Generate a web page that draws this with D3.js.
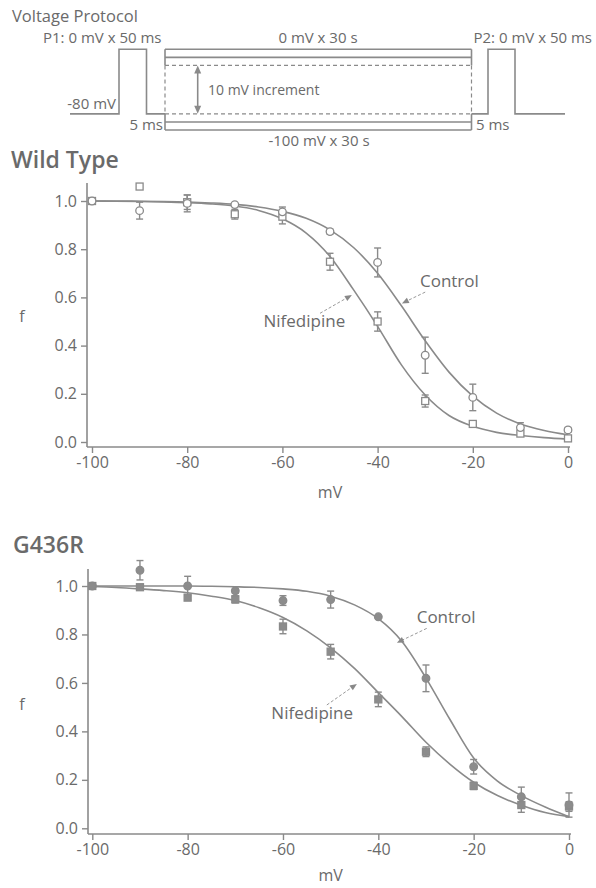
<!DOCTYPE html>
<html><head><meta charset="utf-8">
<script src="https://cdn.jsdelivr.net/npm/d3@7"></script>
<style>
body{margin:0;background:#fff}
svg{display:block}
text{font-family:"Open Sans","Noto Sans",sans-serif;fill:#6a6a6a}
</style>
</head><body><svg id="c" width="596" height="888"></svg>
<script>
// ---------- DATA ----------
const voltages = [-100,-90,-80,-70,-60,-50,-40,-30,-20,-10,0];
const xTicks = [-100,-80,-60,-40,-20,0];
const yTicks = [0,0.2,0.4,0.6,0.8,1.0];

const wtControl        = [1.0,0.96,0.99,0.985,0.955,0.873,0.745,0.36,0.185,0.06,0.05];
const wtControlErr     = [0,0.035,0.035,0,0.02,0.01,0.06,0.075,0.055,0.02,0.01];
const wtNifedipine     = [1.0,1.06,0.995,0.945,0.935,0.748,0.50,0.17,0.075,0.035,0.015];
const wtNifedipineErr  = [0,0,0.03,0.02,0.03,0.035,0.04,0.025,0.01,0.01,0.01];

const g436Control       = [1.0,1.065,1.0,0.98,0.94,0.944,0.873,0.619,0.254,0.13,0.096];
const g436ControlErr    = [0,0.04,0.04,0.01,0.02,0.035,0,0.055,0.03,0.04,0.05];
const g436Nifedipine    = [1.0,0.995,0.952,0.945,0.833,0.729,0.532,0.316,0.175,0.096,0.09];
const g436NifedipineErr = [0,0,0.01,0.015,0.03,0.03,0.03,0.02,0.015,0.03,0.02];

// fitted curves, every 5 mV
const fitVoltages = [-100,-95,-90,-85,-80,-75,-70,-65,-60,-55,-50,-45,-40,-35,-30,-25,-20,-15,-10,-5,0];
const wtControlFit     = [1.0,1.0,0.999,0.998,0.996,0.992,0.986,0.975,0.957,0.928,0.88,0.806,0.70,0.565,0.42,0.29,0.19,0.12,0.075,0.048,0.03];
const wtNifedipineFit  = [1.0,0.999,0.998,0.996,0.993,0.988,0.979,0.961,0.926,0.867,0.77,0.63,0.48,0.32,0.195,0.11,0.065,0.04,0.027,0.018,0.012];
const g436ControlFit   = [1.0,1.0,1.0,1.0,1.0,0.999,0.997,0.994,0.988,0.978,0.958,0.922,0.865,0.77,0.62,0.45,0.29,0.195,0.135,0.088,0.048];
const g436NifedipineFit= [0.998,0.994,0.988,0.981,0.972,0.958,0.94,0.91,0.87,0.815,0.745,0.66,0.56,0.46,0.355,0.265,0.19,0.135,0.095,0.065,0.048];

// protocol levels (mV)
const protocolLevelsSolid = [0,-10,-90,-100];
const protocolLevelsDashed = [-20,-80];

// ---------- DRAW ----------
const svg = d3.select('#c');
const LINE = '#8a8a8a';

// Voltage protocol schematic
(function(){
  const v = d3.scaleLinear().domain([-100,0]).range([130,49.3]);
  const X = {start:70, p1r:119, p1f:146.5, bl:165, br:471.5, p2r:488, p2f:515, end:565};
  const g = svg.append('g');
  const line = d3.line();
  const st = s => s.attr('fill','none').attr('stroke',LINE).attr('stroke-width',1.6);
  st(g.append('path').attr('d', line([[X.start,v(-80)],[X.p1r,v(-80)],[X.p1r,v(0)],[X.p1f,v(0)],[X.p1f,v(-80)],[X.bl,v(-80)]])));
  st(g.append('path').attr('d', line([[X.br,v(-80)],[X.p2r,v(-80)],[X.p2r,v(0)],[X.p2f,v(0)],[X.p2f,v(-80)],[X.end,v(-80)]])));
  protocolLevelsSolid.forEach(l=>st(g.append('path').attr('d',line([[X.bl,v(l)],[X.br,v(l)]]))));
  protocolLevelsDashed.forEach(l=>st(g.append('path').attr('d',line([[X.bl,v(l)],[X.br,v(l)]]))).attr('stroke-dasharray','4,3').attr('stroke-width',1.3));
  [X.bl,X.br].forEach(x=>{
    st(g.append('path').attr('d',line([[x,v(0)],[x,v(-20)]])));
    st(g.append('path').attr('d',line([[x,v(-80)],[x,v(-100)]])));
    st(g.append('path').attr('d',line([[x,v(-20)],[x,v(-80)]]))).attr('stroke-dasharray','4,3').attr('stroke-width',1.2);
  });
  // double arrow
  const ax = 197.7;
  st(g.append('path').attr('d',line([[ax,v(-20)+5],[ax,v(-80)-5]])));
  g.append('path').attr('d',line([[ax,v(-20)],[ax-3.5,v(-20)+8],[ax+3.5,v(-20)+8]])+'Z').attr('fill',LINE);
  g.append('path').attr('d',line([[ax,v(-80)],[ax-3.5,v(-80)-8],[ax+3.5,v(-80)-8]])+'Z').attr('fill',LINE);

  const t = (x,y,s,size,anchor)=>g.append('text').attr('x',x).attr('y',y).attr('font-size',size).attr('text-anchor',anchor||'start').text(s);
  t(12,22,'Voltage Protocol',16.5);
  t(43,43,'P1: 0 mV x 50 ms',15);
  t(318,43,'0 mV x 30 s',15,'middle');
  t(592,43,'P2: 0 mV x 50 ms',15,'end');
  t(116,109,'-80 mV',15,'end');
  t(208,95,'10 mV increment',14);
  t(163,130,'5 ms',15,'end');
  t(476,130,'5 ms',15);
  t(319,146,'-100 mV x 30 s',15,'middle');
})();

function chart(cfg){
  const g = svg.append('g');
  const x = d3.scaleLinear().domain([-100,0]).range(cfg.xr);
  const y = d3.scaleLinear().domain([0,1]).range(cfg.yr);

  g.append('text').attr('x',cfg.titleX).attr('y',cfg.titleY).attr('font-size',23).attr('font-weight',600).text(cfg.title);

  // axes
  const yAx = g.append('g').attr('transform',`translate(${cfg.axX},0)`)
    .call(d3.axisLeft(y).tickValues(yTicks).tickFormat(d => d.toFixed(1)).tickSize(6).tickPadding(4));
  const xAx = g.append('g').attr('transform',`translate(0,${cfg.axY})`)
    .call(d3.axisBottom(x).tickValues(xTicks).tickFormat(d => String(d)).tickSize(6).tickPadding(4));
  [yAx,xAx].forEach(a=>{
    a.select('.domain').remove();
    a.selectAll('line').attr('stroke',LINE).attr('stroke-width',1.4);
    a.selectAll('text').attr('font-size',16).attr('fill','#666').style('font-family','"Open Sans",sans-serif');
  });
  g.append('line').attr('x1',cfg.axX).attr('x2',cfg.axX).attr('y1',y(cfg.yTop)).attr('y2',cfg.axY)
    .attr('stroke',LINE).attr('stroke-width',1.6);
  g.append('line').attr('x1',cfg.axX).attr('x2',x(0)+2).attr('y1',cfg.axY).attr('y2',cfg.axY)
    .attr('stroke',LINE).attr('stroke-width',1.6);

  g.append('text').attr('x',x(-50)).attr('y',cfg.mvY).attr('text-anchor','middle').attr('font-size',16).text('mV');
  g.append('text').attr('x',22).attr('y',cfg.fY).attr('text-anchor','middle').attr('font-size',16).text('f');

  // fitted curves
  const ln = d3.line().x((d,i)=>x(fitVoltages[i])).y(d=>y(d)).curve(d3.curveMonotoneX);
  [cfg.ctrlFit,cfg.nifFit].forEach(f=>g.append('path').attr('d',ln(f)).attr('fill','none').attr('stroke',LINE).attr('stroke-width',1.6));

  // error bars
  function errs(vals,err){
    vals.forEach((v,i)=>{
      const e = err[i]; if(!e) return;
      const cx = x(voltages[i]);
      g.append('line').attr('x1',cx).attr('x2',cx).attr('y1',y(v-e)).attr('y2',y(v+e)).attr('stroke',LINE).attr('stroke-width',1.4);
      [v-e,v+e].forEach(w=>g.append('line').attr('x1',cx-3.5).attr('x2',cx+3.5).attr('y1',y(w)).attr('y2',y(w)).attr('stroke',LINE).attr('stroke-width',1.4));
    });
  }
  errs(cfg.ctrl,cfg.ctrlErr); errs(cfg.nif,cfg.nifErr);

  const fill = cfg.filled ? '#8c8c8c' : '#fff';
  g.selectAll(null).data(cfg.nif).enter().append('rect')
    .attr('x',(d,i)=>x(voltages[i])-3.5).attr('y',d=>y(d)-3.5).attr('width',7).attr('height',7)
    .attr('fill',fill).attr('stroke',LINE).attr('stroke-width',1.3);
  g.selectAll(null).data(cfg.ctrl).enter().append('circle')
    .attr('cx',(d,i)=>x(voltages[i])).attr('cy',d=>y(d)).attr('r',3.8)
    .attr('fill',fill).attr('stroke',LINE).attr('stroke-width',1.3);

  // annotations
  function ann(label, tv, tf, anchor, from, to){
    g.append('text').attr('x',x(tv)).attr('y',y(tf)).attr('text-anchor',anchor).attr('font-size',17).text(label);
    const x1=x(from[0]),y1=y(from[1]),x2=x(to[0]),y2=y(to[1]);
    const ang = Math.atan2(y2-y1,x2-x1);
    g.append('line').attr('x1',x1).attr('y1',y1).attr('x2',x2-Math.cos(ang)*5).attr('y2',y2-Math.sin(ang)*5)
      .attr('stroke','#999').attr('stroke-width',1).attr('stroke-dasharray','3,2');
    const hl=7, hw=3;
    const p=[[x2,y2],[x2-Math.cos(ang)*hl-Math.sin(ang)*hw, y2-Math.sin(ang)*hl+Math.cos(ang)*hw],[x2-Math.cos(ang)*hl+Math.sin(ang)*hw, y2-Math.sin(ang)*hl-Math.cos(ang)*hw]];
    g.append('path').attr('d',d3.line()(p)+'Z').attr('fill','#888');
  }
  cfg.ann.forEach(a=>ann(...a));
}

chart({
  title:'Wild Type', titleX:11, titleY:168,
  xr:[92,568], yr:[442,201], axX:87, axY:447, yTop:1.075, mvY:498, fY:322,
  ctrl:wtControl, ctrlErr:wtControlErr, nif:wtNifedipine, nifErr:wtNifedipineErr,
  ctrlFit:wtControlFit, nifFit:wtNifedipineFit, filled:false,
  ann:[
    ['Control',-31.1,0.643,'start',[-30,0.622],[-34.9,0.575]],
    ['Nifedipine',-46.8,0.477,'end',[-52.1,0.534],[-45.4,0.61]]
  ]
});
chart({
  title:'G436R', titleX:13, titleY:553,
  xr:[92.3,569], yr:[828.3,586], axX:88, axY:834, yTop:1.07, mvY:881, fY:710,
  ctrl:g436Control, ctrlErr:g436ControlErr, nif:g436Nifedipine, nifErr:g436NifedipineErr,
  ctrlFit:g436ControlFit, nifFit:g436NifedipineFit, filled:true,
  ann:[
    ['Control',-31.95,0.847,'start',[-29.85,0.825],[-36.1,0.766]],
    ['Nifedipine',-45.3,0.451,'end',[-50.8,0.509],[-44.5,0.596]]
  ]
});
</script>
</body></html>
